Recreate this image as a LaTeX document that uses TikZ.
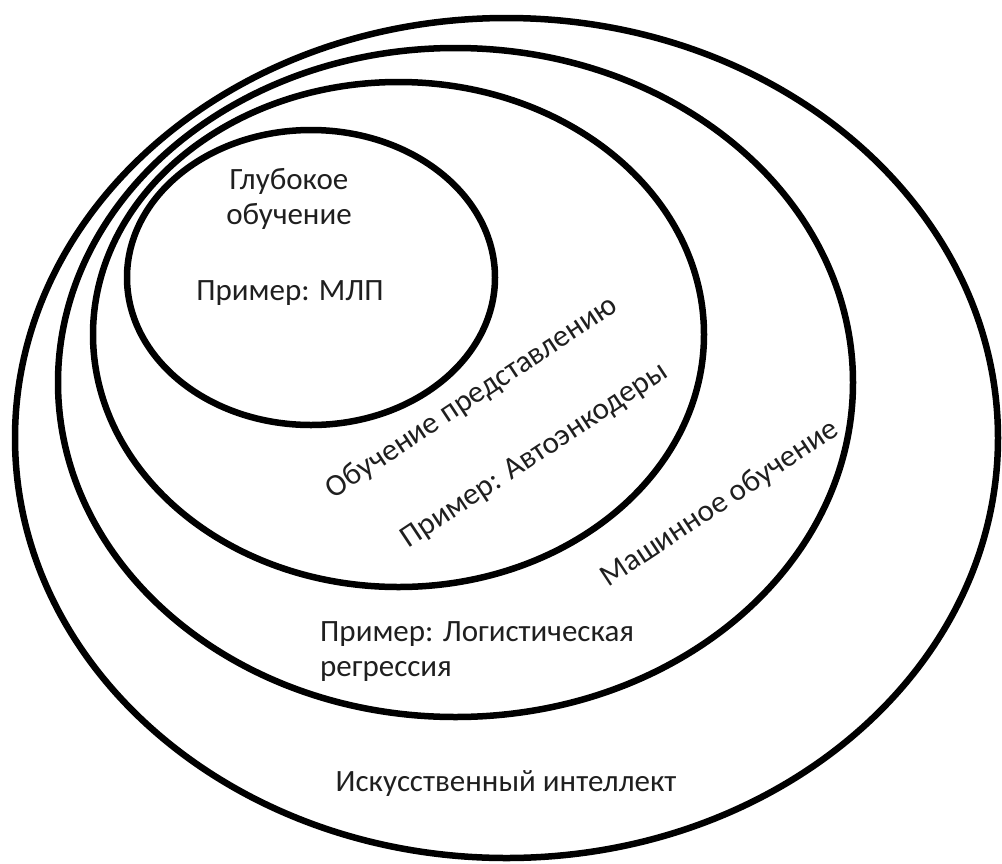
\documentclass[tikz,border=0pt]{standalone}
\usepackage{fontspec}
\setmainfont{Carlito}
\begin{document}
\begin{tikzpicture}[x=1pt,y=-1pt,
  ring/.style={line width=6.5pt},
  lbl/.style={font=\fontsize{31}{35}\selectfont, text=black!88, inner sep=0pt},
  tilt/.style={lbl, rotate=33.5}]
\useasboundingbox (0,0) rectangle (1002,863);
% nested fields, outermost first
\draw[ring] (506.5,438) ellipse [x radius=491.5, y radius=420];
\draw[ring] (455.5,382.5) ellipse [x radius=397.5, y radius=334.5];
\draw[ring] (398.5,334.5) ellipse [x radius=305.5, y radius=252.5];
\draw[ring] (311,277.5) ellipse [x radius=184, y radius=147.5];
% labels
\node[lbl, align=center] (dl) at (289,199) {Глубокое\\обучение};
\node[lbl] (dlex) at (290,293) {Пример: МЛП};
\node[tilt] (rl) at (472,398) {Обучение представлению};
\node[tilt] (rlex) at (535,456) {Пример: Автоэнкодеры};
\node[tilt] (ml) at (720,504) {Машинное обучение};
\node[lbl, align=left, anchor=north west] (mlex) at (320,621) {Пример: Логистическая\\регрессия};
\node[lbl] (ai) at (506,784) {Искусственный интеллект};
\end{tikzpicture}
\end{document}
